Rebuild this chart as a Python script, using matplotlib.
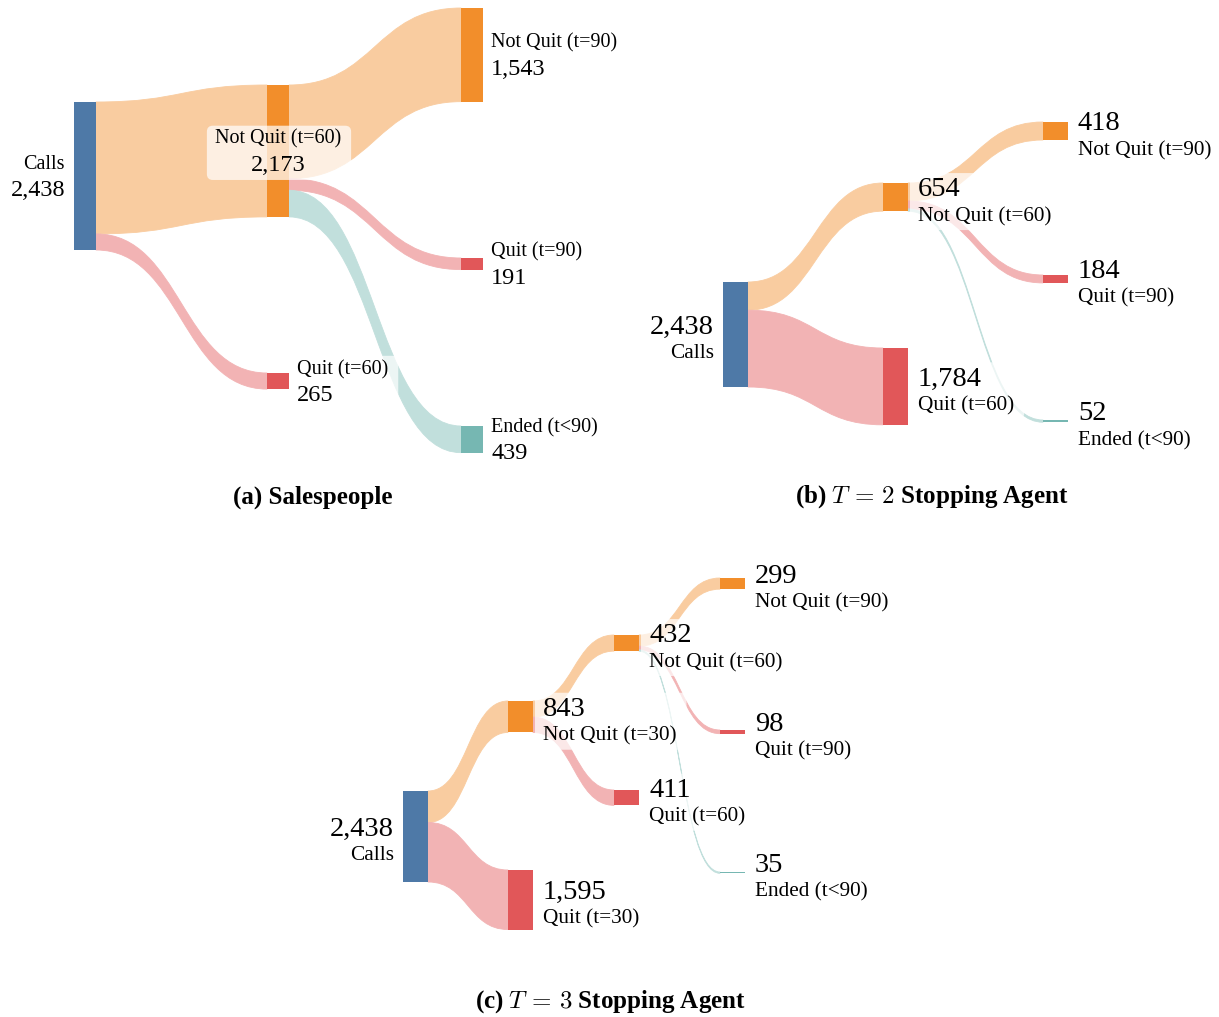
import matplotlib
matplotlib.use("Agg")
import matplotlib.pyplot as plt
from matplotlib.path import Path
from matplotlib.patches import PathPatch, Rectangle, FancyBboxPatch
from matplotlib.transforms import Bbox
from matplotlib.colors import to_rgb

plt.rcParams['font.family'] = ['Liberation Serif', 'DejaVu Serif']
plt.rcParams['mathtext.fontset'] = 'cm'

# ---- data -------------------------------------------------------------
# (a) salespeople
a_names = ["Calls", "Not Quit (t=60)", "Quit (t=60)", "Not Quit (t=90)", "Quit (t=90)", "Ended (t<90)"]
a_values = [2438, 2173, 265, 1543, 191, 439]
a_src = [0, 0, 1, 1, 1]
a_tgt = [1, 2, 3, 4, 5]
a_flow = [2173, 265, 1543, 191, 439]

# (b) T=2 stopping agent
b_names = ["Calls", "Not Quit (t=60)", "Quit (t=60)", "Not Quit (t=90)", "Quit (t=90)", "Ended (t<90)"]
b_values = [2438, 654, 1784, 418, 184, 52]
b_src = [0, 0, 1, 1, 1]
b_tgt = [1, 2, 3, 4, 5]
b_flow = [654, 1784, 418, 184, 52]

# (c) T=3 stopping agent
c_names = ["Calls", "Not Quit (t=30)", "Quit (t=30)", "Not Quit (t=60)", "Quit (t=60)",
           "Not Quit (t=90)", "Quit (t=90)", "Ended (t<90)"]
c_values = [2438, 843, 1595, 432, 411, 299, 98, 35]
c_src = [0, 0, 1, 1, 3, 3, 3]
c_tgt = [1, 2, 3, 4, 5, 6, 7]
c_flow = [843, 1595, 432, 411, 299, 98, 35]

captions = ["(a) Salespeople", r"(b) $T\,=\,2$ Stopping Agent", r"(c) $T\,=\,3$ Stopping Agent"]

# ---- layout (pixels) ---------------------------------------------------
COLORS = {"Calls": "#4E79A7", "Not": "#F28E2B", "Quit": "#E15759", "Ended": "#76B7B2"}

layouts = [
    dict(x=[74, 267, 267, 461, 461, 461], y=[102, 85, 373, 8, 258, 426], w=22,
         scale=148 / 2438, style="a", center=[1]),
    dict(x=[723, 883, 883, 1043, 1043, 1043], y=[282, 183, 348, 122, 275, 420], w=25,
         scale=105 / 2438, style="b", center=[]),
    dict(x=[403, 508, 508, 614, 614, 720, 720, 720], y=[791, 701, 870, 635, 790, 578, 730, 872], w=25,
         scale=91 / 2438, style="b", center=[]),
]
caption_pos = [(313, 497), (932, 497), (610, 1002)]


def node_color(name):
    return COLORS[name.split()[0]]


def light(c, a=0.45):
    r, g, b = to_rgb(c)
    return (1 - a + a * r, 1 - a + a * g, 1 - a + a * b)


fig = plt.figure(figsize=(12.19, 10.17), dpi=100)
ax = fig.add_axes([0, 0, 1, 1])
ax.set_xlim(0, 1219)
ax.set_ylim(1017, 0)
ax.axis('off')

label_groups = []
panels = [(a_names, a_values, a_src, a_tgt, a_flow),
          (b_names, b_values, b_src, b_tgt, b_flow),
          (c_names, c_values, c_src, c_tgt, c_flow)]

for (names, values, src, tgt, flow), lay in zip(panels, layouts):
    xs, ys, w, k = lay["x"], lay["y"], lay["w"], lay["scale"]
    out_off = [0.0] * len(names)
    in_off = [0.0] * len(names)
    # links
    for s, t, f in zip(src, tgt, flow):
        h = f * k
        x0 = xs[s] + w
        x1 = xs[t]
        y0 = ys[s] + out_off[s]
        y1 = ys[t] + in_off[t]
        out_off[s] += h
        in_off[t] += h
        xm = (x0 + x1) / 2
        verts = [(x0, y0), (xm, y0), (xm, y1), (x1, y1),
                 (x1, y1 + h), (xm, y1 + h), (xm, y0 + h), (x0, y0 + h), (x0, y0)]
        codes = [Path.MOVETO, Path.CURVE4, Path.CURVE4, Path.CURVE4,
                 Path.LINETO, Path.CURVE4, Path.CURVE4, Path.CURVE4, Path.CLOSEPOLY]
        col = light(node_color(names[t]))
        ax.add_patch(PathPatch(Path(verts, codes), facecolor=col,
                               edgecolor=col, linewidth=0.6, zorder=1))
    # nodes + labels
    for i, (nm, v) in enumerate(zip(names, values)):
        h = v * k
        ax.add_patch(Rectangle((xs[i], ys[i]), w, h, facecolor=node_color(nm),
                               edgecolor='none', zorder=2))
        cy = ys[i] + h / 2
        val = f"{v:,}"
        if lay["style"] == "a":
            if i in lay["center"]:
                tx, ha = xs[i] + w / 2, 'center'
            elif i == 0:
                tx, ha = xs[i] - 9, 'right'
            else:
                tx, ha = xs[i] + w + 8, 'left'
            t1 = ax.text(tx, cy - 7, nm, fontsize=14.5, ha=ha, va='baseline', zorder=4)
            t2 = ax.text(tx, cy + 20, val, fontsize=17.5, ha=ha, va='baseline', zorder=4)
        else:
            if i == 0:
                tx, ha = xs[i] - 9, 'right'
            else:
                tx, ha = xs[i] + w + 10, 'left'
            t1 = ax.text(tx, cy - 1, val, fontsize=20.5, ha=ha, va='baseline', zorder=4)
            t2 = ax.text(tx, cy + 24, nm, fontsize=15.3, ha=ha, va='baseline', zorder=4)
        label_groups.append((t1, t2, ha))

for (cx, cy), cap in zip(caption_pos, captions):
    ax.text(cx, cy, cap, fontsize=18, fontweight='bold', ha='center', va='center')

# semi-transparent boxes behind labels
fig.canvas.draw()
rend = fig.canvas.get_renderer()
inv = ax.transData.inverted()
for t1, t2, ha in label_groups:
    bb = Bbox.union([t1.get_window_extent(rend), t2.get_window_extent(rend)])
    (xa, ya), (xb, yb) = inv.transform([[bb.x0, bb.y0], [bb.x1, bb.y1]])
    rpad = 7 if ha == 'right' else 10
    x0, x1 = min(xa, xb) - 8, max(xa, xb) + rpad
    y0, y1 = min(ya, yb) - 4, max(ya, yb) + 4
    ax.add_patch(FancyBboxPatch((x0, y0), x1 - x0, y1 - y0,
                                boxstyle="round,pad=0,rounding_size=6",
                                facecolor='white', edgecolor='none', alpha=0.7, zorder=3))

fig.savefig("out.png", dpi=100)
